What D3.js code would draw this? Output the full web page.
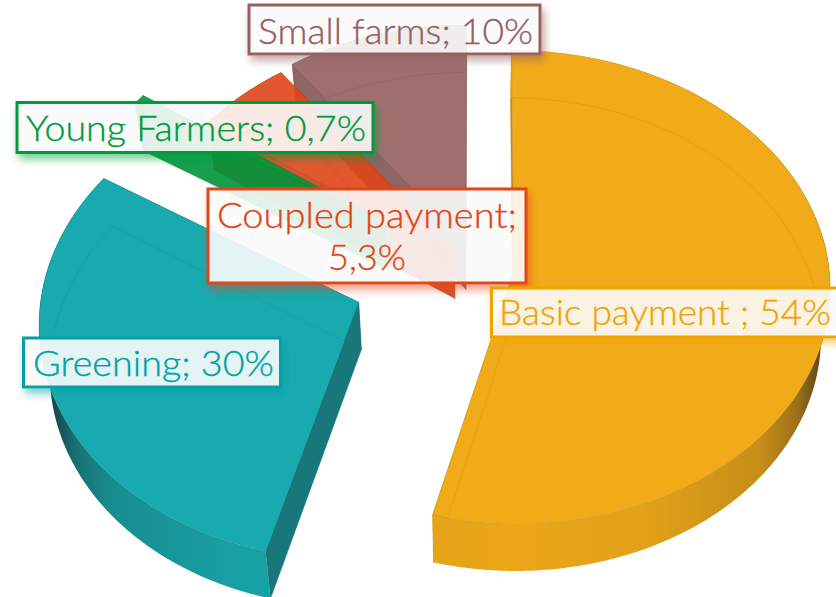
<!DOCTYPE html>
<html>
<head>
<meta charset="utf-8">
<script src="https://cdn.jsdelivr.net/npm/d3@7/dist/d3.min.js"></script>
<style>
html,body{margin:0;padding:0;background:#fff;overflow:hidden}
svg{display:block}
text{font-family:Lato,"Open Sans",sans-serif;font-weight:300}
</style>
</head>
<body>
<svg id="chart" width="836" height="597"></svg>
<script>
// Data
const categories = ["Basic payment ", "Greening", "Young Farmers", "Coupled payment", "Small farms"];
const shares = [54, 30, 0.7, 5.3, 10];
const shareLabels = ["54%", "30%", "0,7%", "5,3%", "10%"];
const explode = [0.118, 0.4, 0.355, 0.1, 0.115];
const colors = ["#f1a300", "#00a1a7", "#009a3c", "#e14518", "#956060"];
const wallTone = [0.8, 0.65, 0.97, 0.93, 0.87];

const W = 836, H = 597;
const svg = d3.select("#chart");
const defs = svg.append("defs");

// Projection of the tilted disc
const rx = 315, ry = 235, persp = 0.0677, depth = 47.5, vanishX = 466, shrink = 0.025;
const cx = 477, cy = 267.4, groupAlpha = 0.9;
const xScale = d3.scaleLinear().domain([-1, 1]).range([cx - rx, cx + rx]);
const yScale = d3.scaleLinear().domain([-1, 1]).range([cy + ry, cy - ry]);

const pie = d3.pie().sort(null).value(d => d)(shares);
const line = d3.line();

function project(X, Y) {
  const s = 1 / (1 + persp * Y);
  return [xScale(X * s), yScale(Y * s)];
}
function down(p) {
  return [p[0] + (vanishX - p[0]) * shrink, p[1] + depth];
}

const slices = pie.map((p, i) => {
  const mid = (p.startAngle + p.endAngle) / 2;
  const X0 = explode[i] * Math.sin(mid), Y0 = explode[i] * Math.cos(mid);
  const apex = project(X0, Y0);
  const n = Math.max(4, Math.ceil((p.endAngle - p.startAngle) * 60));
  const arc = d3.range(n + 1).map(k => {
    const a = p.startAngle + (p.endAngle - p.startAngle) * k / n;
    return project(X0 + Math.sin(a), Y0 + Math.cos(a));
  });
  return { i, apex, arc, name: categories[i], color: colors[i], label: shareLabels[i] };
});

function shade(c, f) {
  const r = d3.rgb(c);
  return d3.rgb(r.r * f, r.g * f, r.b * f).formatRgb();
}
const rimShade = [[0, .97], [.4, .93], [.78, .8], [.9, .6], [.97, .33], [1, .2]];

const order = [4, 3, 2, 1, 0];
const chart = svg.append("g");
order.forEach(idx => {
  const s = slices[idx];
  const g = chart.append("g").attr("opacity", groupAlpha);
  const first = s.arc[0], last = s.arc[s.arc.length - 1];
  const bottomArc = s.arc.map(down);
  const bApex = down(s.apex);

  // horizontal shading of the curved wall
  const gid = "wall" + idx;
  const grad = defs.append("linearGradient").attr("id", gid)
    .attr("gradientUnits", "userSpaceOnUse")
    .attr("x1", s.apex[0] - rx).attr("x2", s.apex[0] + rx).attr("y1", 0).attr("y2", 0);
  const stops = rimShade.map(d => [-d[0], d[1]]).reverse().concat(rimShade.slice(1));
  stops.forEach(d => grad.append("stop")
    .attr("offset", (d[0] + 1) / 2).attr("stop-color", shade(s.color, d[1])));

  // side walls
  const c = shade(s.color, wallTone[idx]);
  [[s.apex, first, down(first), bApex], [s.apex, last, down(last), bApex]].forEach(q => {
    g.append("path").attr("d", line(q) + "Z")
      .attr("fill", c).attr("stroke", c).attr("stroke-width", .4);
  });
  // curved wall
  g.append("path").attr("d", line(s.arc.concat(bottomArc.slice().reverse())) + "Z")
    .attr("fill", `url(#${gid})`);

  // top face
  const topPts = [s.apex].concat(s.arc);
  const clipId = "top" + idx;
  defs.append("clipPath").attr("id", clipId).append("path").attr("d", line(topPts) + "Z");
  g.append("path").attr("d", line(topPts) + "Z")
    .attr("fill", s.color)
    .attr("stroke", shade(s.color, .7)).attr("stroke-width", .6).attr("stroke-opacity", .5);
  // lower outline seen through the top face
  g.append("path").attr("d", line([bApex].concat(bottomArc)) + "Z")
    .attr("clip-path", `url(#${clipId})`)
    .attr("fill", "none").attr("stroke", shade(s.color, .6))
    .attr("stroke-width", .8).attr("stroke-opacity", .22);
});

// Label boxes
const boxes = [
  { i: 0, x: 491.5, y: 288, w: 360, h: 49, lines: ["Basic payment ; 54%"], tx: [499], base: [325], tw: [332] },
  { i: 1, x: 23.5, y: 338, w: 257, h: 49, lines: ["Greening; 30%"], tx: [33], base: [376], tw: [241] },
  { i: 2, x: 17, y: 102.5, w: 356, h: 50, lines: ["Young Farmers; 0,7%"], tx: [26], base: [141], tw: [340] },
  { i: 3, x: 208, y: 189, w: 318, h: 94, lines: ["Coupled payment;", "5,3%"], tx: [217, 328], base: [228, 270], tw: [300, 78] },
  { i: 4, x: 249, y: 5, w: 291, h: 49, lines: ["Small farms; 10%"], tx: [258], base: [44], tw: [275] }
];
const drawOrder = [4, 2, 3, 1, 0];
drawOrder.forEach(k => {
  const b = boxes.find(d => d.i === k);
  const col = colors[b.i];
  const fid = "sh" + k;
  const f = defs.append("filter").attr("id", fid)
    .attr("filterUnits", "userSpaceOnUse").attr("x", 0).attr("y", 0).attr("width", W + 60).attr("height", H);
  f.append("feGaussianBlur").attr("in", "SourceAlpha").attr("stdDeviation", 4).attr("result", "b");
  f.append("feOffset").attr("in", "b").attr("dx", 3).attr("dy", 5).attr("result", "o");
  f.append("feFlood").attr("flood-color", col).attr("flood-opacity", .55).attr("result", "c");
  f.append("feComposite").attr("in", "c").attr("in2", "o").attr("operator", "in").attr("result", "s");
  f.append("feComposite").attr("in", "s").attr("in2", "SourceAlpha").attr("operator", "out");

  const g = svg.append("g");
  g.append("rect").attr("x", b.x).attr("y", b.y).attr("width", b.w).attr("height", b.h)
    .attr("fill", "#000").attr("filter", `url(#${fid})`)
    .attr("stroke", "#000").attr("stroke-width", 3);
  g.append("rect").attr("x", b.x).attr("y", b.y).attr("width", b.w).attr("height", b.h)
    .attr("fill", "#fbfbfb").attr("fill-opacity", .9).attr("stroke", col).attr("stroke-width", 3);
  b.lines.forEach((t, j) => {
    g.append("text").attr("x", b.tx[j]).attr("y", b.base[j])
      .attr("font-size", 36).attr("fill", col).attr("stroke", col).attr("stroke-width", .35)
      .attr("textLength", b.tw[j]).attr("lengthAdjust", "spacingAndGlyphs").text(t);
  });
});
</script>
</body>
</html>
